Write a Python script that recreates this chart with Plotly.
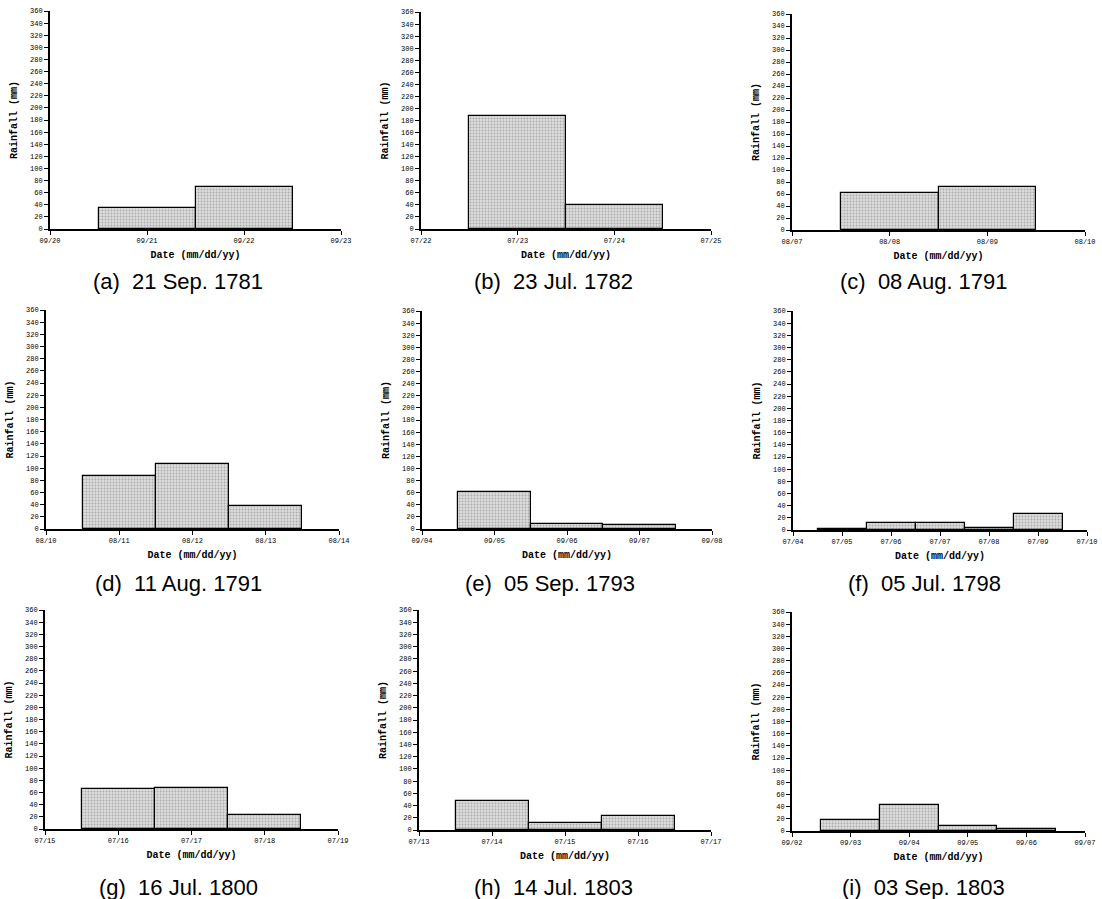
import plotly.graph_objects as go

# ---------------- data (daily rainfall, mm) ----------------
captions = ["(a)  21 Sep. 1781", "(b)  23 Jul. 1782", "(c)  08 Aug. 1791",
            "(d)  11 Aug. 1791", "(e)  05 Sep. 1793", "(f)  05 Jul. 1798",
            "(g)  16 Jul. 1800", "(h)  14 Jul. 1803", "(i)  03 Sep. 1803"]

a_dates = ["1781-09-21", "1781-09-22"]
a_rain = [34, 70]
a_range = ["1781-09-20", "1781-09-23"]

b_dates = ["1782-07-23", "1782-07-24"]
b_rain = [188, 39]
b_range = ["1782-07-22", "1782-07-25"]

c_dates = ["1791-08-08", "1791-08-09"]
c_rain = [62, 72]
c_range = ["1791-08-07", "1791-08-10"]

d_dates = ["1791-08-11", "1791-08-12", "1791-08-13"]
d_rain = [87, 107, 37]
d_range = ["1791-08-10", "1791-08-14"]

e_dates = ["1793-09-05", "1793-09-06", "1793-09-07"]
e_rain = [61, 9, 6]
e_range = ["1793-09-04", "1793-09-08"]

f_dates = ["1798-07-05", "1798-07-06", "1798-07-07", "1798-07-08", "1798-07-09"]
f_rain = [1, 11, 11, 4, 26]
f_range = ["1798-07-04", "1798-07-10"]

g_dates = ["1800-07-16", "1800-07-17", "1800-07-18"]
g_rain = [66, 67, 23]
g_range = ["1800-07-15", "1800-07-19"]

h_dates = ["1803-07-14", "1803-07-15", "1803-07-16"]
h_rain = [47, 11, 23]
h_range = ["1803-07-13", "1803-07-17"]

i_dates = ["1803-09-03", "1803-09-04", "1803-09-05", "1803-09-06"]
i_rain = [18, 42, 9, 4]
i_range = ["1803-09-02", "1803-09-07"]

y_ticks = list(range(0, 361, 20))
x_title = "Date (mm/dd/yy)"
y_title = "Rainfall (mm)"

series = [(a_dates, a_rain, a_range), (b_dates, b_rain, b_range), (c_dates, c_rain, c_range),
          (d_dates, d_rain, d_range), (e_dates, e_rain, e_range), (f_dates, f_rain, f_range),
          (g_dates, g_rain, g_range), (h_dates, h_rain, h_range), (i_dates, i_rain, i_range)]

# ---------------- layout (page pixel boxes: left, right, top, bottom) ----------------
W, H = 1102, 899
boxes = [(50, 341, 11, 229), (421, 711, 12, 229), (792, 1085, 14, 230),
         (46, 339, 310, 529), (422, 712, 311, 529), (793, 1087, 311, 530),
         (45, 338, 610, 829), (419, 711, 610, 830), (792, 1085, 612, 831)]
cap_pos = [(178, 281), (553, 281), (924, 281),
           (178, 583), (550, 583), (924, 583),
           (178, 887), (553, 887), (923, 887)]

mono = "Courier New, Liberation Mono, monospace"
DAY = 86400000

fig = go.Figure()
layout = dict(width=W, height=H, margin=dict(l=0, r=0, t=0, b=0, autoexpand=False),
              paper_bgcolor="white", plot_bgcolor="white", showlegend=False,
              bargap=0, annotations=[])

for k, ((dates, rain, rng), (l, r, t, b)) in enumerate(zip(series, boxes)):
    n = "" if k == 0 else str(k + 1)
    fig.add_trace(go.Bar(
        x=dates, y=rain, width=[DAY] * len(dates),
        xaxis="x" + n, yaxis="y" + n,
        marker=dict(color="#d4d4d4",
                    line=dict(color="black", width=1.2),
                    pattern=dict(shape=".", fgcolor="#7a7a7a", bgcolor="#dcdcdc",
                                 size=3, solidity=0.3)),
    ))
    layout["xaxis" + n] = dict(
        domain=[l / W, r / W], anchor="y" + n, type="date", automargin=False,
        range=rng, tick0=rng[0], dtick=DAY, tickformat="%m/%d",
        showline=True, linecolor="black", linewidth=1.5,
        ticks="outside", ticklen=4, tickcolor="black", showgrid=False, zeroline=False,
        tickfont=dict(family=mono, size=7, color="black"),
        title=dict(text=x_title, standoff=7,
                   font=dict(family=mono, size=10, color="black", weight="bold")),
    )
    layout["yaxis" + n] = dict(
        domain=[1 - b / H, 1 - t / H], anchor="x" + n, automargin=False,
        range=[0, 360], tickvals=y_ticks,
        showline=True, linecolor="black", linewidth=2,
        ticks="outside", ticklen=4, tickcolor="black", showgrid=False, zeroline=False,
        tickfont=dict(family=mono, size=7, color="black"),
        title=dict(text=y_title, standoff=10,
                   font=dict(family=mono, size=10, color="black", weight="bold")),
    )
    cx, cy = cap_pos[k]
    layout["annotations"].append(dict(
        text=captions[k], x=cx / W, y=1 - cy / H, xref="paper", yref="paper",
        xanchor="center", yanchor="middle", showarrow=False,
        font=dict(family="Liberation Sans, Arial, sans-serif", size=22, color="black"),
    ))

fig.update_layout(**layout)
fig.write_html("out.html", config={"displayModeBar": False},
               post_script="document.body.style.margin='0';document.body.style.overflow='hidden';")
